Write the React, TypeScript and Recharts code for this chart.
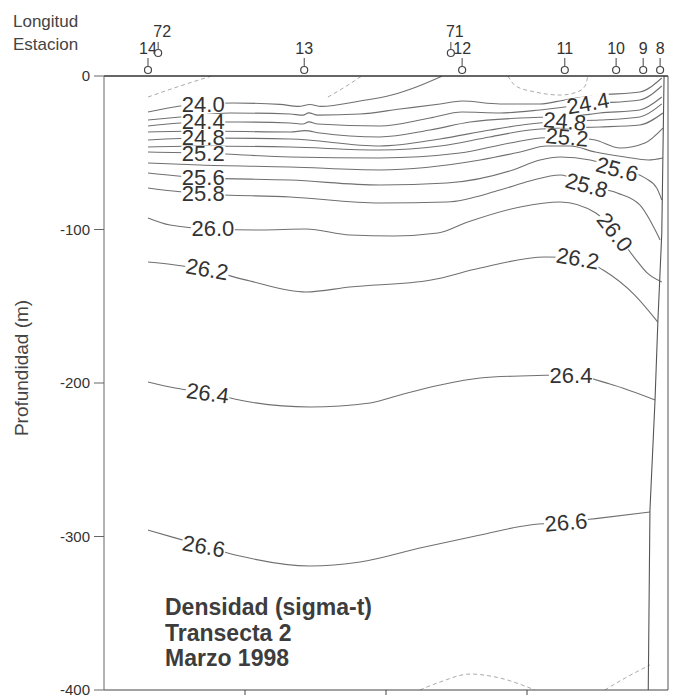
import React from 'react';
import { ComposedChart, Line, XAxis, YAxis, ReferenceDot, ReferenceLine } from 'recharts';

// distancia (km, 0-100 a lo largo de la transecta) y profundidad (m)
const stationDist = [7.8, 35.5, 63.5, 81.7, 90.8, 95.6, 98.6];
const stationNames = ['14', '13', '12', '11', '10', '9', '8'];
const lonDist = [9.6, 61.5];
const lonNames = ['72', '71'];
const depthTicks = [-400, -300, -200, -100, 0];

// isopicnas (x = km, y = m)
const c23a = [[7.8, -13.7], [13.5, -6.5], [19.1, 0]];
const c23b = [[39.7, -13.7], [42.7, -7.2], [45.7, 0]];
const c240 = [[7.8, -23.5], [13.5, -19.5], [17.6, -18.2], [22.9, -17.6], [31.2, -18.5], [34.5, -19.8], [36.5, -18.6], [38.5, -19.8], [45.4, -16.3], [51.0, -12.4], [55.5, -7.0], [60.0, 0]];
const c240u = [[71.6, 0], [73.0, -6.5], [76.4, -10.4], [80.9, -12.4], [83.9, -10.4], [85.3, -6.5], [85.8, 0]];
const c242 = [[7.8, -28.7], [13.5, -26.7], [22.3, -24.1], [33.0, -24.8], [35.3, -25.5], [36.3, -24.0], [37.9, -25.5], [45.4, -24.8], [52.5, -21.5], [59.6, -18.2], [63.5, -16.3], [70.2, -18.2], [77.3, -18.2], [81.7, -15.6], [87.9, -12.4], [95.0, -10.4], [98.9, -1.3]];
const c244 = [[7.8, -32.6], [17.6, -30.0], [24.1, -30.0], [33.0, -30.6], [35.3, -31.3], [36.3, -29.9], [37.9, -31.3], [48.9, -32.6], [57.8, -27.4], [63.5, -23.5], [70.2, -24.1], [77.3, -22.1], [81.7, -20.2], [85.8, -18.2], [95.0, -15.6], [98.9, -6.5]];
const c246 = [[7.8, -36.5], [17.0, -35.8], [33.0, -36.5], [35.6, -35.6], [38.3, -37.1], [48.9, -39.7], [57.8, -35.2], [64.9, -30.0], [73.8, -27.4], [79.1, -26.7], [83.5, -26.1], [87.9, -24.1], [95.0, -22.1], [98.9, -13.7]];
const c248 = [[7.8, -41.7], [17.6, -40.4], [33.0, -41.0], [48.9, -45.6], [59.6, -41.0], [68.4, -35.2], [75.5, -31.3], [81.7, -29.3], [87.9, -28.7], [95.0, -26.7], [98.9, -18.2]];
const c250 = [[7.8, -46.3], [17.0, -45.6], [33.0, -46.3], [48.9, -48.2], [59.6, -45.6], [68.4, -39.7], [75.5, -35.2], [80.9, -33.9], [87.9, -33.2], [95.0, -31.9], [99.1, -24.1]];
const c252 = [[7.8, -49.5], [17.6, -50.2], [33.0, -52.8], [48.9, -53.4], [63.1, -50.2], [72.0, -43.6], [77.3, -40.4], [82.1, -39.7], [87.1, -41.7], [91.5, -46.9], [95.9, -43.6], [99.1, -33.9]];
const c254 = [[7.8, -56.7], [17.0, -58.0], [33.0, -59.3], [48.9, -61.2], [66.7, -54.7], [73.8, -49.5], [78.5, -45.6], [82.6, -45.6], [87.1, -49.5], [92.4, -52.8], [96.5, -54.7], [99.1, -53.4]];
const c256 = [[7.8, -63.2], [17.6, -66.4], [33.0, -67.8], [48.9, -71.0], [60.8, -69.7], [72.5, -61.2], [77.3, -54.7], [80.9, -52.8], [86.2, -54.7], [91.0, -59.9], [95.9, -66.4], [98.0, -73.0], [98.9, -80.8]];
const c258 = [[7.8, -73.0], [17.6, -76.9], [33.0, -78.8], [48.9, -82.7], [60.8, -82.1], [70.2, -74.3], [75.5, -68.4], [80.9, -64.5], [85.6, -71.0], [91.0, -76.2], [95.0, -84.0], [98.6, -106.8]];
const c260 = [[7.8, -92.5], [11.7, -97.1], [19.3, -99.7], [27.7, -100.3], [35.8, -99.7], [43.6, -103.6], [51.4, -104.2], [59.2, -102.3], [64.5, -95.1], [73.8, -85.3], [80.9, -82.1], [87.2, -89.3], [90.6, -101.6], [94.1, -118.6], [96.3, -128.3], [98.9, -134.2]];
const c262 = [[7.8, -121.2], [12.6, -123.1], [18.3, -126.4], [25.9, -133.6], [35.8, -140.7], [43.6, -137.5], [58.0, -132.9], [66.7, -125.1], [78.2, -117.9], [84.0, -118.6], [88.5, -126.4], [94.1, -142.7], [98.2, -160.3]];
const c264 = [[7.8, -199.3], [12.6, -203.3], [18.4, -206.5], [25.9, -212.4], [36.5, -215.6], [47.2, -213.0], [52.5, -207.8], [59.6, -201.3], [66.7, -196.7], [73.8, -195.4], [82.8, -194.8], [89.7, -200.7], [97.7, -211.1]];
const c266 = [[7.8, -295.8], [12.6, -300.9], [17.7, -306.2], [24.1, -312.7], [36.5, -319.2], [45.4, -316.6], [56.0, -307.5], [66.7, -299.0], [75.5, -292.5], [81.9, -290.6], [87.9, -288.0], [96.8, -284.0]];
const c268 = [[56.0, -400], [59.6, -394.8], [64.9, -389.6], [70.2, -392.2], [76.4, -400]];
const c268b = [[88.8, -400], [92.4, -392.2], [96.8, -383.7]];
const bottom = [[99.3, 0], [98.9, -102.3], [98.2, -160.3], [97.7, -211.1], [96.8, -282.7], [96.5, -400]];

// etiquetas de las isolineas
const labelText = ['24.0', '24.4', '24.8', '25.2', '25.6', '25.8', '26.0', '26.2', '26.4', '26.6',
  '24.4', '24.8', '25.2', '25.6', '25.8', '26.0', '26.2', '26.4', '26.6'];
const labelDist = [17.6, 17.6, 17.6, 17.6, 17.6, 17.6, 19.3, 18.3, 18.4, 17.7,
  85.8, 81.7, 82.1, 91.0, 85.6, 90.6, 84.0, 82.8, 81.9];
const labelDepth = [-18.2, -29.3, -39.7, -50.2, -65.8, -76.2, -99.0, -125.7, -206.5, -306.2,
  -17.6, -29.3, -39.7, -60.6, -71.0, -101.6, -118.6, -194.8, -290.6];
const labelAngle = [0, 0, 0, 0, 0, 0, 0, 10, 8, 10, -10, 5, 5, 15, 15, 52, 10, 0, -5];

const contours = [
  { id: 'c23a', d: c23a, faint: true },
  { id: 'c23b', d: c23b, faint: true },
  { id: 'c240', d: c240 },
  { id: 'c240u', d: c240u, faint: true },
  { id: 'c242', d: c242 },
  { id: 'c244', d: c244 },
  { id: 'c246', d: c246 },
  { id: 'c248', d: c248 },
  { id: 'c250', d: c250 },
  { id: 'c252', d: c252 },
  { id: 'c254', d: c254 },
  { id: 'c256', d: c256 },
  { id: 'c258', d: c258 },
  { id: 'c260', d: c260 },
  { id: 'c262', d: c262 },
  { id: 'c264', d: c264 },
  { id: 'c266', d: c266 },
  { id: 'c268', d: c268, faint: true },
  { id: 'c268b', d: c268b, faint: true },
];

const FONT = '"Liberation Sans", Arial, sans-serif';
const toPts = (a: number[][]) => a.map(([x, y]) => ({ x, y }));

const StationMark = ({ cx, cy, text }: any) => (
  <g>
    <text x={cx} y={cy - 22} textAnchor="middle" fontSize={16} fill="#333" fontFamily={FONT}>{text}</text>
    <line x1={cx} x2={cx} y1={cy - 18} y2={cy - 10} stroke="#444" />
    <circle cx={cx} cy={cy - 6} r={3.5} fill="#fff" stroke="#444" strokeWidth={1.2} />
  </g>
);

const LonMark = ({ cx, cy, text }: any) => (
  <g>
    <text x={cx + 4} y={cy - 16} textAnchor="middle" fontSize={16} fill="#333" fontFamily={FONT}>{text}</text>
    <line x1={cx} x2={cx} y1={cy - 11} y2={cy - 4} stroke="#444" />
    <circle cx={cx} cy={cy} r={3.5} fill="#fff" stroke="#444" strokeWidth={1.2} />
  </g>
);

const LabelBg = ({ cx, cy, text, angle }: any) => {
  const w = text.length * 11;
  return <rect x={cx - w / 2} y={cy - 7} width={w} height={14} fill="#fff" transform={`rotate(${angle} ${cx} ${cy})`} />;
};

const LabelText = ({ cx, cy, text, angle }: any) => (
  <text x={cx} y={cy} dy="0.36em" textAnchor="middle" fontSize={22} fill="#333" fontFamily={FONT}
    transform={`rotate(${angle} ${cx} ${cy})`}>{text}</text>
);

const Empty = () => <g />;

export default function App() {
  return (
    <div style={{ position: 'absolute', left: 0, top: 0, width: 676, height: 700, background: '#fff', fontFamily: FONT }}>
      <ComposedChart width={676} height={700} margin={{ top: 46, right: 8, bottom: 4, left: 44 }}>
        <XAxis dataKey="x" type="number" domain={[0, 100]} ticks={[25, 50, 75]} allowDataOverflow
          height={6} tickSize={5} tick={<Empty />} stroke="#444" />
        <XAxis xAxisId="st" orientation="top" type="number" domain={[0, 100]} allowDataOverflow
          ticks={stationDist} height={30} tick={false} tickLine={false}
          axisLine={{ stroke: '#333', strokeWidth: 1.5 }} />
        <YAxis type="number" domain={[-400, 0]} ticks={depthTicks} allowDataOverflow width={60}
          tickSize={10} tickMargin={4} stroke="#666"
          tick={{ fontSize: 15, fill: '#333', fontFamily: FONT }} />
        <ReferenceLine x={100} stroke="#555" />
        {contours.map(c => (
          <Line key={c.id} data={toPts(c.d)} dataKey="y" type="monotone" dot={false} activeDot={false}
            stroke={c.faint ? '#a0a0a0' : '#707070'} strokeWidth={c.faint ? 0.9 : 1.1}
            strokeDasharray={c.faint ? '4 3' : undefined} isAnimationActive={false} />
        ))}
        <Line data={toPts(bottom)} dataKey="y" type="linear" dot={false} activeDot={false}
          stroke="#555" strokeWidth={1.1} isAnimationActive={false} />
        {labelText.map((t, i) => (
          <ReferenceDot key={'b' + i} x={labelDist[i]} y={labelDepth[i]} r={0} ifOverflow="visible"
            shape={(p: any) => <LabelBg cx={p.cx} cy={p.cy} text={t} angle={labelAngle[i]} />} />
        ))}
        {labelText.map((t, i) => (
          <ReferenceDot key={'t' + i} x={labelDist[i]} y={labelDepth[i]} r={0} ifOverflow="visible"
            shape={(p: any) => <LabelText cx={p.cx} cy={p.cy} text={t} angle={labelAngle[i]} />} />
        ))}
        {stationNames.map((t, i) => (
          <ReferenceDot key={'s' + i} x={stationDist[i]} y={0} r={0} ifOverflow="visible"
            shape={(p: any) => <StationMark cx={p.cx} cy={p.cy} text={t} />} />
        ))}
        {lonNames.map((t, i) => (
          <ReferenceDot key={'l' + i} x={lonDist[i]} y={15} r={0} ifOverflow="visible"
            shape={(p: any) => <LonMark cx={p.cx} cy={p.cy} text={t} />} />
        ))}
      </ComposedChart>
      <div style={{ position: 'absolute', left: 13, top: 10, fontSize: 17, color: '#444', lineHeight: '23px' }}>
        Longitud<br />Estacion
      </div>
      <div style={{ position: 'absolute', left: 22, top: 368, transform: 'translate(-50%, -50%) rotate(-90deg)',
        fontSize: 19, color: '#444', whiteSpace: 'nowrap' }}>
        Profundidad (m)
      </div>
      <div style={{ position: 'absolute', left: 165, top: 595, fontSize: 23, fontWeight: 'bold', color: '#3d3d3d',
        lineHeight: '25.5px' }}>
        Densidad (sigma-t)<br />Transecta 2<br />Marzo 1998
      </div>
    </div>
  );
}
